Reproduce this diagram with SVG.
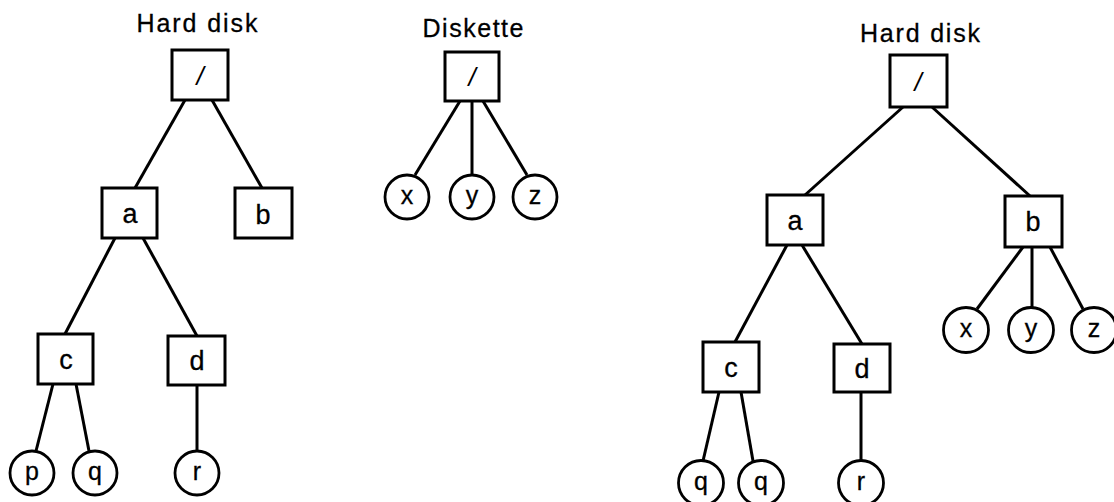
<svg xmlns="http://www.w3.org/2000/svg" width="1114" height="502" viewBox="0 0 1114 502">
<style>
.box{fill:#fff;stroke:#000;stroke-width:3}
.cir{fill:#fff;stroke:#000;stroke-width:2.8}
.lab{font-family:"Liberation Sans",Arial,sans-serif;font-size:25px;fill:#000;stroke:#000;stroke-width:0.3;text-anchor:middle}
.bt{font-family:"Liberation Sans",Arial,sans-serif;font-size:27px;fill:#000;stroke:#000;stroke-width:0.3;text-anchor:middle}
.ct{font-family:"Liberation Sans",Arial,sans-serif;font-size:25px;fill:#000;stroke:#000;stroke-width:0.3;text-anchor:middle}
.sl{font-family:"Liberation Sans",Arial,sans-serif;font-size:26px;font-style:italic;fill:#000;text-anchor:middle}
.con line{stroke:#000;stroke-width:3}
</style>
<rect width="1114" height="502" fill="#fff"/>
<g id="titles">
<text class="lab" x="197" y="32" textLength="121" lengthAdjust="spacing">Hard disk</text>
<text class="lab" x="473" y="37" textLength="101" lengthAdjust="spacing">Diskette</text>
<text class="lab" x="920" y="42" textLength="120" lengthAdjust="spacing">Hard disk</text>
</g>
<g id="connectors" class="con">
<line x1="185" y1="100" x2="135" y2="188"/>
<line x1="212" y1="100" x2="262" y2="188"/>
<line x1="115" y1="238" x2="65" y2="334"/>
<line x1="143" y1="238" x2="197" y2="336"/>
<line x1="53" y1="384" x2="36" y2="451"/>
<line x1="76" y1="384" x2="89" y2="451"/>
<line x1="197" y1="385" x2="197" y2="451"/>
<line x1="460" y1="101" x2="415" y2="175"/>
<line x1="472" y1="101" x2="472" y2="174"/>
<line x1="483" y1="101" x2="527" y2="175"/>
<line x1="903" y1="107" x2="805" y2="195"/>
<line x1="932" y1="107" x2="1030" y2="196"/>
<line x1="787" y1="245" x2="735" y2="342"/>
<line x1="802" y1="245" x2="862" y2="344"/>
<line x1="719" y1="392" x2="703" y2="461"/>
<line x1="741" y1="392" x2="753" y2="461"/>
<line x1="861" y1="392" x2="861" y2="461"/>
<line x1="1023" y1="247" x2="977" y2="309"/>
<line x1="1032" y1="247" x2="1032" y2="307"/>
<line x1="1050" y1="247" x2="1083" y2="309"/>
</g>
<g id="L_root"><rect class="box" x="172" y="50" width="56" height="50"/><text class="sl" x="200" y="85">/</text></g>
<g id="L_a"><rect class="box" x="102" y="188" width="55" height="50"/><text class="bt" x="130" y="223">a</text></g>
<g id="L_b"><rect class="box" x="235" y="188" width="57" height="50"/><text class="bt" x="263" y="224">b</text></g>
<g id="L_c"><rect class="box" x="38" y="334" width="55" height="50"/><text class="bt" x="66" y="369">c</text></g>
<g id="L_d"><rect class="box" x="168" y="336" width="57" height="49"/><text class="bt" x="197" y="370">d</text></g>
<g id="L_p"><circle class="cir" cx="32" cy="473" r="22"/><text class="ct" x="32" y="480">p</text></g>
<g id="L_q"><circle class="cir" cx="95" cy="473" r="22"/><text class="ct" x="95" y="480">q</text></g>
<g id="L_r"><circle class="cir" cx="197" cy="473" r="22"/><text class="ct" x="197" y="480">r</text></g>
<g id="D_root"><rect class="box" x="445" y="52" width="54" height="49"/><text class="sl" x="472" y="86">/</text></g>
<g id="D_x"><circle class="cir" cx="407" cy="197" r="22"/><text class="ct" x="407" y="204">x</text></g>
<g id="D_y"><circle class="cir" cx="472" cy="197" r="22"/><text class="ct" x="472" y="204">y</text></g>
<g id="D_z"><circle class="cir" cx="535" cy="197" r="22"/><text class="ct" x="535" y="204">z</text></g>
<g id="R_root"><rect class="box" x="890" y="55" width="57" height="52"/><text class="sl" x="918" y="91">/</text></g>
<g id="R_a"><rect class="box" x="767" y="195" width="56" height="50"/><text class="bt" x="795" y="230">a</text></g>
<g id="R_b"><rect class="box" x="1005" y="196" width="57" height="51"/><text class="bt" x="1033" y="231">b</text></g>
<g id="R_c"><rect class="box" x="703" y="342" width="56" height="50"/><text class="bt" x="731" y="377">c</text></g>
<g id="R_d"><rect class="box" x="834" y="344" width="56" height="48"/><text class="bt" x="862" y="378">d</text></g>
<g id="R_q1"><circle class="cir" cx="701" cy="483" r="22.5"/><text class="ct" x="701" y="490">q</text></g>
<g id="R_q2"><circle class="cir" cx="761" cy="483" r="22.5"/><text class="ct" x="761" y="490">q</text></g>
<g id="R_r"><circle class="cir" cx="861" cy="483" r="22.5"/><text class="ct" x="861" y="490">r</text></g>
<g id="R_x"><circle class="cir" cx="966" cy="330" r="22.5"/><text class="ct" x="966" y="337">x</text></g>
<g id="R_y"><circle class="cir" cx="1031" cy="330" r="22.5"/><text class="ct" x="1031" y="337">y</text></g>
<g id="R_z"><circle class="cir" cx="1094" cy="330" r="22.5"/><text class="ct" x="1094" y="337">z</text></g>
</svg>
